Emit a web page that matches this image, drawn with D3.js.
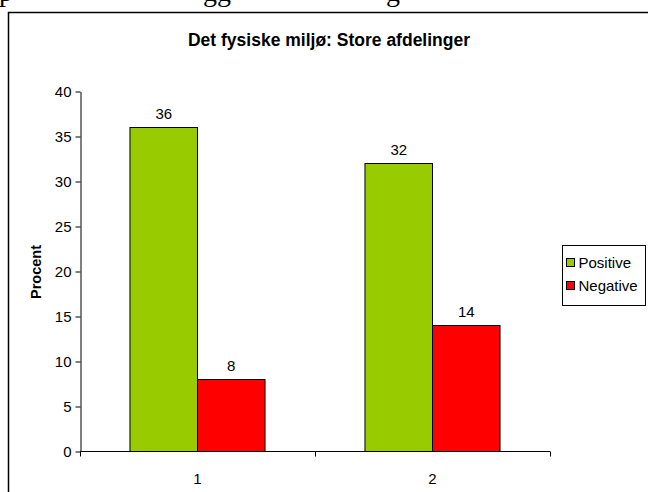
<!DOCTYPE html>
<html>
<head>
<meta charset="utf-8">
<script src="https://cdn.jsdelivr.net/npm/d3@7"></script>
<style>
  body { margin: 0; background: #fff; }
  svg { display: block; }
</style>
</head>
<body>
<div id="chart"></div>
<script>
// Data
const categories = ['1', '2'];
const seriesNames = ['Positive', 'Negative'];
const positive = [36, 32];
const negative = [8, 14];
const yTicks = [0, 5, 10, 15, 20, 25, 30, 35, 40];
const seriesColors = ['#99cc00', '#ff0000'];

const width = 648, height = 492;
const font = '"Liberation Sans", Arial, sans-serif';

const svg = d3.select('#chart')
    .append('svg')
    .attr('width', width)
    .attr('height', height);

// Bits of the document line above the chart (only descenders are visible)
const docText = [{ t: 'p', x: -1 }, { t: 'gg', x: 203 }, { t: 'g', x: 386 }];
svg.selectAll('.doc')
    .data(docText)
    .enter()
    .append('text')
    .attr('class', 'doc')
    .attr('x', d => d.x)
    .attr('y', 1)
    .style('font-family', '"Liberation Serif", "Times New Roman", serif')
    .style('font-size', '28px')
    .style('fill', '#000')
    .text(d => d.t);

// Chart frame (runs off the right and bottom edge)
svg.append('rect')
    .attr('x', 8.5)
    .attr('y', 12.5)
    .attr('width', 700)
    .attr('height', 600)
    .attr('fill', '#fff')
    .attr('stroke', '#000')
    .attr('stroke-width', 1.5);

// Title
svg.append('text')
    .attr('x', 329)
    .attr('y', 46)
    .attr('text-anchor', 'middle')
    .style('font-family', font)
    .style('font-size', '17.5px')
    .style('font-weight', '700')
    .text('Det fysiske miljø: Store afdelinger');

// Scales
const x = d3.scaleBand()
    .domain(categories)
    .range([80, 550])
    .padding(0);

const xSub = d3.scaleBand()
    .domain(seriesNames)
    .range([0, x.bandwidth()])
    .paddingInner(0)
    .paddingOuter(0.74);

const y = d3.scaleLinear()
    .domain([0, 40])
    .range([451.5, 91.5]);

// Y axis
const yAxis = svg.append('g')
    .attr('transform', 'translate(80.5,0)')
    .call(d3.axisLeft(y).tickValues(yTicks).tickSize(5).tickSizeOuter(0).tickPadding(4));
yAxis.select('.domain').attr('stroke', '#000');
yAxis.selectAll('.tick line').attr('stroke', '#000');
yAxis.selectAll('.tick text')
    .style('font-family', font)
    .style('font-size', '15px')
    .attr('fill', '#000');

// Y axis title
svg.append('text')
    .attr('transform', 'translate(41,272) rotate(-90)')
    .attr('text-anchor', 'middle')
    .style('font-family', font)
    .style('font-size', '14.5px')
    .style('font-weight', '700')
    .text('Procent');

// Bars
const rows = categories.map((c, i) => ({ cat: c, values: [positive[i], negative[i]] }));
const groups = svg.selectAll('.group')
    .data(rows)
    .enter()
    .append('g')
    .attr('class', 'group')
    .attr('transform', d => `translate(${x(d.cat)},0)`);

groups.selectAll('rect')
    .data(d => d.values.map((v, j) => ({ name: seriesNames[j], value: v, j })))
    .enter()
    .append('rect')
    .attr('x', d => xSub(d.name))
    .attr('y', d => y(d.value))
    .attr('width', xSub.bandwidth())
    .attr('height', d => y(0) - y(d.value))
    .attr('fill', d => seriesColors[d.j])
    .attr('stroke', '#000')
    .attr('stroke-width', 1);

// Value labels
groups.selectAll('.val')
    .data(d => d.values.map((v, j) => ({ name: seriesNames[j], value: v })))
    .enter()
    .append('text')
    .attr('class', 'val')
    .attr('x', d => xSub(d.name) + xSub.bandwidth() / 2)
    .attr('y', d => y(d.value) - 9)
    .attr('text-anchor', 'middle')
    .style('font-family', font)
    .style('font-size', '15px')
    .text(d => d.value);

// X axis
const xAxisG = svg.append('g');
xAxisG.append('line')
    .attr('x1', 80).attr('x2', 550)
    .attr('y1', y(0)).attr('y2', y(0))
    .attr('stroke', '#000');
const xTickPos = [80].concat(categories.map(c => x(c) + x.bandwidth()));
xAxisG.selectAll('.xtick')
    .data(xTickPos)
    .enter()
    .append('line')
    .attr('x1', d => d + 0.5).attr('x2', d => d + 0.5)
    .attr('y1', y(0)).attr('y2', y(0) + 5)
    .attr('stroke', '#000');
xAxisG.selectAll('.xlab')
    .data(categories)
    .enter()
    .append('text')
    .attr('x', d => x(d) + x.bandwidth() / 2)
    .attr('y', 484)
    .attr('text-anchor', 'middle')
    .style('font-family', font)
    .style('font-size', '15px')
    .text(d => d);

// Legend
const legend = svg.append('g').attr('transform', 'translate(562.5,245.5)');
legend.append('rect')
    .attr('width', 83)
    .attr('height', 60)
    .attr('fill', '#fff')
    .attr('stroke', '#000');
const items = legend.selectAll('.item')
    .data(seriesNames)
    .enter()
    .append('g')
    .attr('transform', (d, i) => `translate(4,${17 + i * 23})`);
items.append('rect')
    .attr('x', 0)
    .attr('y', -4)
    .attr('width', 8)
    .attr('height', 8)
    .attr('fill', (d, i) => seriesColors[i])
    .attr('stroke', '#000');
items.append('text')
    .attr('x', 12)
    .attr('y', 5.5)
    .style('font-family', font)
    .style('font-size', '15px')
    .text(d => d);
</script>
</body>
</html>
